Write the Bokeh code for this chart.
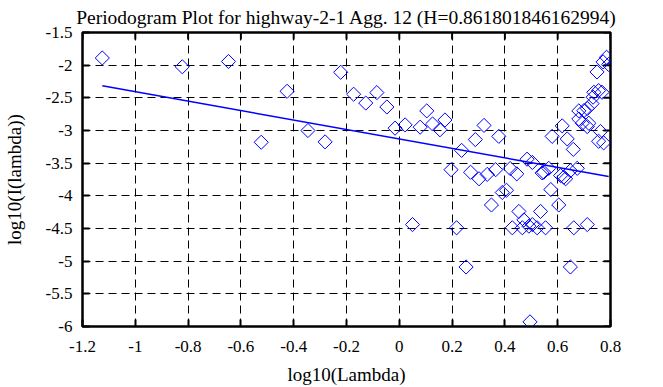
import numpy as np
from bokeh.plotting import figure
from bokeh.models import Range1d, FixedTicker
from bokeh.embed import file_html
from bokeh.resources import INLINE

title_text = "Periodogram Plot for highway-2-1 Agg. 12 (H=0.861801846162994)"
x_label = "log10(Lambda)"
y_label = "log10(I(lambda))"

x_ticks = [-1.2, -1.0, -0.8, -0.6, -0.4, -0.2, 0.0, 0.2, 0.4, 0.6, 0.8]
x_tick_labels = ["-1.2", "-1", "-0.8", "-0.6", "-0.4", "-0.2", "0", "0.2", "0.4", "0.6", "0.8"]
y_ticks = [-6.0, -5.5, -5.0, -4.5, -4.0, -3.5, -3.0, -2.5, -2.0, -1.5]
y_tick_labels = ["-6", "-5.5", "-5", "-4.5", "-4", "-3.5", "-3", "-2.5", "-2", "-1.5"]

log_lambda = [
    -1.125, -0.822, -0.647, -0.523, -0.425, -0.346, -0.281, -0.222, -0.173, -0.127,
    -0.085, -0.047, -0.016, 0.022, 0.050, 0.079, 0.104, 0.126, 0.154, 0.173,
    0.196, 0.217, 0.236, 0.253, 0.270, 0.288, 0.302, 0.321, 0.333, 0.349,
    0.365, 0.377, 0.390, 0.406, 0.420, 0.428, 0.445, 0.453, 0.466, 0.472,
    0.484, 0.491, 0.495, 0.504, 0.504, 0.522, 0.535, 0.541, 0.547, 0.554,
    0.566, 0.574, 0.579, 0.604, 0.611, 0.617, 0.623, 0.630, 0.636, 0.648,
    0.648, 0.659, 0.661, 0.674, 0.680, 0.680, 0.693, 0.699, 0.712, 0.712,
    0.712, 0.718, 0.730, 0.734, 0.737, 0.749, 0.755, 0.755, 0.762, 0.768,
    0.772, 0.774, 0.785, 0.793,
]
log_I = [
    -1.890, -2.025, -1.944, -3.180, -2.400, -3.000, -3.174, -2.109, -2.445, -2.580,
    -2.420, -2.640, -2.964, -2.914, -4.440, -2.949, -2.700, -2.900, -2.989, -2.839,
    -3.600, -4.489, -3.304, -5.089, -3.639, -3.139, -3.739, -2.922, -3.672, -4.140,
    -3.600, -3.090, -3.949, -3.915, -3.582, -4.489, -3.664, -4.239, -4.489, -4.369,
    -3.439, -4.464, -5.929, -4.440, -3.489, -4.489, -4.239, -3.649, -3.639, -4.489,
    -3.579, -3.904, -3.090, -4.140, -3.690, -2.929, -3.714, -3.739, -3.129, -3.615,
    -5.089, -3.289, -4.489, -3.579, -2.824, -2.700, -2.889, -2.697, -4.440, -2.940,
    -2.664, -2.889, -2.589, -2.490, -2.415, -2.104, -2.389, -3.165, -3.015, -2.415,
    -1.950, -3.189, -1.879, -1.989,
]

fit_slope = -0.7236
fit_intercept = -3.129

FONT = "Liberation Serif"
BLUE = "#0000ff"

x_min, x_max = x_ticks[0], x_ticks[-1]
y_min, y_max = y_ticks[0], y_ticks[-1]

p = figure(width=663, height=387,
           x_range=Range1d(x_min, x_max), y_range=Range1d(y_min, y_max),
           output_backend="svg", toolbar_location=None,
           min_border_left=81, min_border_right=53,
           min_border_top=31, min_border_bottom=56,
           background_fill_color="white", border_fill_color="white")

p.title.text = title_text
p.title.align = "center"
p.title.text_font = FONT
p.title.text_font_size = "19.5px"
p.title.text_font_style = "normal"
p.title.text_color = "black"
p.title.standoff = 9
p.title.offset = 0

# grid
for g, t in ((p.xgrid, x_ticks), (p.ygrid, y_ticks)):
    g.ticker = FixedTicker(ticks=t)
    g.grid_line_color = "black"
    g.grid_line_width = 1
    g.grid_line_dash = "8 5"

p.outline_line_color = "black"
p.outline_line_width = 2.5
p.outline_line_alpha = 1.0

def style_axis(ax, ticks, labels):
    ax.ticker = FixedTicker(ticks=ticks)
    ax.major_label_overrides = {float(t): l for t, l in zip(ticks, labels)}
    ax.axis_line_color = None
    ax.major_tick_in = 7
    ax.major_tick_out = 0
    ax.major_tick_line_width = 2
    ax.major_tick_line_color = "black"
    ax.minor_tick_line_color = None
    ax.major_label_text_font = FONT
    ax.major_label_text_font_size = "17px"
    ax.major_label_text_color = "black"
    ax.axis_label_text_font = FONT
    ax.axis_label_text_font_style = "normal"
    ax.axis_label_text_font_size = "19px"
    ax.axis_label_text_color = "black"

xa = p.xaxis[0]
style_axis(xa, x_ticks, x_tick_labels)
xa.axis_label = x_label
xa.major_label_standoff = 14
xa.axis_label_standoff = 9

ya = p.yaxis[0]
style_axis(ya, y_ticks, y_tick_labels)
ya.axis_label = y_label
ya.major_label_standoff = 10
ya.axis_label_standoff = 18

# mirrored inward ticks on top and right borders (half of each dash is clipped by the frame)
p.scatter(x_ticks, [y_max] * len(x_ticks), marker="dash", angle=np.pi / 2, size=14,
          line_color="black", line_width=2)
p.scatter([x_max] * len(y_ticks), y_ticks, marker="dash", size=14,
          line_color="black", line_width=2)

# points
p.scatter(log_lambda, log_I, marker="square", angle=np.pi / 4, size=10,
          fill_color=None, line_color=BLUE, line_width=1)

# fitted line
xs = np.array([min(log_lambda), max(log_lambda)])
p.line(xs, fit_intercept + fit_slope * xs, line_color=BLUE, line_width=1.5)

open("out.html", "w").write(file_html(p, INLINE))
